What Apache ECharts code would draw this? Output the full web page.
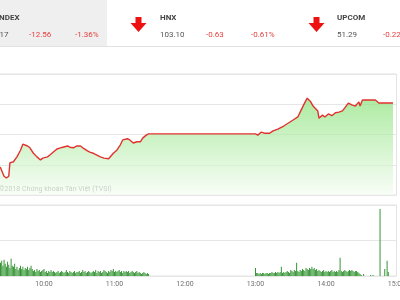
<!DOCTYPE html>
<html><head><meta charset="utf-8">
<script src="https://cdn.jsdelivr.net/npm/echarts@6/dist/echarts.min.js"></script>
<style>html,body{margin:0;padding:0;background:#fff}#c{width:400px;height:300px}</style>
</head><body><div id="c"></div>
<script>
// ---- data ----
const hourTicks = ["09:00","10:00","11:00","12:00","13:00","14:00","15:00"];
const lineTimes = ["09:15","09:23","09:26","09:28","09:30","09:31","09:34","09:37","09:40","09:42","09:46","09:48","09:51","09:54","09:57","09:59","10:03","10:05","10:08","10:11","10:14","10:16","10:20","10:22","10:25","10:28","10:31","10:33","10:37","10:39","10:42","10:45","10:48","10:51","10:55","10:56","10:59","11:02","11:05","11:07","11:11","11:13","11:16","11:19","11:22","11:24","11:27","11:29","13:00","13:02","13:05","13:08","13:12","13:15","13:19","13:24","13:28","13:32","13:36","13:38","13:41","13:44","13:47","13:49","13:53","13:54","13:57","13:59","14:02","14:05","14:08","14:11","14:14","14:16","14:19","14:22","14:25","14:28","14:29","14:31","14:42","14:45","14:57"];
const lineValues = [900.8,899.5,898.1,897.8,898.1,900.3,900.5,901.3,902.4,903.4,903.1,902.8,901.9,901.3,900.8,901.1,901.3,901.6,902.1,902.6,902.8,902.9,903.1,902.9,902.8,903.1,903.1,902.8,902.3,902.1,901.9,901.6,901.3,901.1,901.0,901.3,901.9,902.4,903.3,904.1,904.3,904.1,903.6,903.8,903.8,904.4,904.9,905.1,905.1,904.9,905.4,905.2,905.2,905.6,905.9,906.4,906.9,907.4,907.9,908.7,909.9,911.0,910.4,909.7,908.9,907.7,908.2,907.9,908.4,908.1,908.6,908.7,908.9,909.4,910.2,909.9,909.7,910.4,909.7,910.7,910.7,910.2,910.2];
const volMorningStart = "09:15";
const volMorning = [20,14,12,16,11,13,15,12,
 13,15,10,16,12,9,14,11,8,17,10,9,12,
 7,9,6,8,10,7,9,6,8,7,9,6,8,10,7,
 5,6,4,7,5,6,4,5,6,7,4,5,3,5,4,6,4,5,4,3,
 4,5,3,4,5,4,3,4,6,4,3,5,4,3,4,5,3,4,4,5,3,4,6,4,5,3,4,5,4,3,
 4,5,4,6,3,5,4,5,3,4,6,5,4,3,5,4,6,5,7,4,5,4,5,6,4,5,3,5,4,5,
 4,5,3,4,5,4,3,4,5,3,4,3,2,3,4,3,2,3,2];
const volAfternoonStart = "13:00";
const volAfternoon = [8,
 3,3,2,3,2,3,3,2,3,3,2,3,3,4,3,
 3,4,3,4,3,4,9,3,4,3,4,5,4,3,6,
 5,4,6,5,13,5,4,6,5,7,6,5,8,7,6,
 8,7,9,7,8,6,7,5,6,5,4,5,6,4,5,
 4,5,4,5,6,4,5,4,5,4,6,18,5,4,5,
 6,5,4,5,6,5,6,5,4,5,5,4,3,2,1];
const volLateTimes = ["14:32","14:38","14:40","14:46","14:50","14:52","14:53"];
const volLate = [2,1,1,66,7,15,4];

const indexNames = ["VN-INDEX","HNX","UPCOM"];
const indexValues = ["911.17","103.10","51.29"];
const indexChanges = ["-12.56","-0.63","-0.22"];
const indexPercents = ["-1.36%","-0.61%","-0.22%"];

// ---- build ----
const toMin = s => { const p = s.split(':').map(Number); return p[0]*60+p[1]; };
const fmt = v => { const h = Math.floor(v/60), m = v%60; return h + ':' + (m<10?'0':'') + m; };
const lineData = lineTimes.map((t,i)=>[toMin(t), lineValues[i]]);
const volData = [];
volMorning.forEach((v,i)=>volData.push([toMin(volMorningStart)+i, v]));
volAfternoon.forEach((v,i)=>volData.push([toMin(volAfternoonStart)+i, v]));
volLate.forEach((v,i)=>volData.push([toMin(volLateTimes[i]), v]));

const red = '#e53e3e';
const font = 'Roboto, sans-serif';
const xs = [0, 160, 337]; // header column x
const graphics = [
  {type:'rect', shape:{x:0,y:0,width:107,height:46}, style:{fill:'#efefef'}, silent:true},
  {type:'line', shape:{x1:0,y1:46.5,x2:400,y2:46.5}, style:{stroke:'#e2e2e2',lineWidth:1}},
];
indexNames.forEach((n,i)=>{
  const x = xs[i];
  graphics.push({type:'text', style:{text:n, x: i===0? 19.5 : x, y:18, align: i===0?'right':'left', verticalAlign:'middle', font:'bold 8px '+font, fill:'#444'}});
  graphics.push({type:'text', style:{text:indexValues[i], x: i===0? 8.5 : x, y:35, align: i===0?'right':'left', verticalAlign:'middle', font:'8px '+font, fill:'#555'}});
  graphics.push({type:'text', style:{text:indexChanges[i], x: (i===0?29:x+46), y:35, align:'left', verticalAlign:'middle', font:'8px '+font, fill:red}});
  graphics.push({type:'text', style:{text:indexPercents[i], x: (i===0?75:x+91), y:35, align:'left', verticalAlign:'middle', font:'8px '+font, fill:red}});
});
[138.5, 316.5].forEach(cx=>{
  graphics.push({type:'polygon', shape:{points:[[cx-3,17],[cx+3,17],[cx+3,23],[cx+8,23],[cx,32],[cx-8,23],[cx-3,23]]}, style:{fill:'#ee1111'}});
});
graphics.push({type:'text', style:{text:'©2018 Chứng khoán Tân Việt (TVSI)', x:-1, y:189, verticalAlign:'middle', font:'7px '+font, fill:'#707070'}});

const chart = echarts.init(document.getElementById('c'), null, {renderer:'canvas'});
chart.setOption({
  animation:false,
  backgroundColor:'#fff',
  graphic: graphics,
  grid:[
    {left:-26.5, right:3.5, top:74, height:121, show:true, borderColor:'#e3e3e3', borderWidth:1, containLabel:false, outerBoundsMode:'none'},
    {left:-26.5, right:3.5, top:205, height:71, show:true, borderColor:'#e3e3e3', borderWidth:1, containLabel:false, outerBoundsMode:'none'}
  ],
  xAxis:[
    {type:'value', gridIndex:0, min:toMin(hourTicks[0]), max:toMin(hourTicks[hourTicks.length-1]), interval:60,
     axisLabel:{show:false}, axisLine:{show:false}, axisTick:{show:false}, splitLine:{show:false}},
    {type:'value', gridIndex:1, min:toMin(hourTicks[0]), max:toMin(hourTicks[hourTicks.length-1]), interval:60,
     axisLabel:{show:true, formatter:fmt, fontSize:7, color:'#6f6f6f', fontFamily:font, margin:5, showMaxLabel:true, hideOverlap:false},
     axisLine:{show:false}, axisTick:{show:false}, splitLine:{show:false}}
  ],
  yAxis:[
    {type:'value', gridIndex:0, min:895, max:915, interval:5, axisLabel:{show:false}, axisLine:{show:false}, axisTick:{show:false},
     splitLine:{show:true, lineStyle:{color:'#e6e6e6', width:1}}},
    {type:'value', gridIndex:1, min:0, max:70, interval:35, axisLabel:{show:false}, axisLine:{show:false}, axisTick:{show:false},
     splitLine:{show:true, lineStyle:{color:'#e6e6e6', width:1}}}
  ],
  series:[
    {type:'line', xAxisIndex:0, yAxisIndex:0, data:lineData, showSymbol:false, symbol:'none', clip:true,
     lineStyle:{color:'#e0322e', width:1.4},
     areaStyle:{origin:'start', color:new echarts.graphic.LinearGradient(0,0,0,1,[{offset:0,color:'#8ae27a'},{offset:1,color:'#f6fdf4'}])}},
    {type:'bar', xAxisIndex:1, yAxisIndex:1, data:volData, barWidth:1, clip:true,
     itemStyle:{color:'#359535'}}
  ]
});
</script></body></html>
